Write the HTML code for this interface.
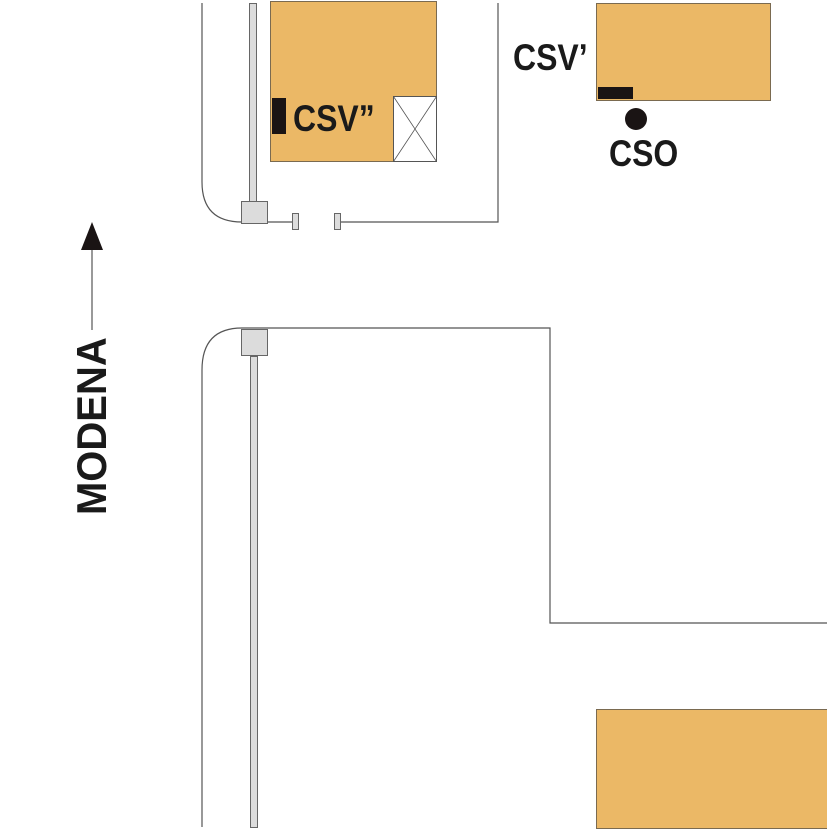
<!DOCTYPE html>
<html><head><meta charset="utf-8"><style>
html,body{margin:0;padding:0;background:#fff;}
svg{display:block}
text{font-family:"Liberation Sans",Arial,sans-serif;font-weight:bold;fill:#1a1a1a}
</style></head><body>
<svg width="827" height="830" viewBox="0 0 827 830" xmlns="http://www.w3.org/2000/svg">
<g fill="none" stroke="#555" stroke-width="1.2">
<path d="M202 3 V182 Q202 222 242 222"/>
<path d="M267 222 H292 M340 222 H498 V3"/>
<path d="M242 328 H550 V623 H827"/>
<path d="M202 827 V370 Q202 328 242 328"/>
</g>
<g fill="#dcdcdc" stroke="#666" stroke-width="1">
<rect x="249.5" y="3.5" width="7" height="198"/>
<rect x="241.5" y="201.5" width="26" height="22"/>
<rect x="292.5" y="213.5" width="6" height="16"/>
<rect x="334.5" y="213.5" width="6" height="16"/>
<rect x="241.5" y="329.5" width="26" height="26"/>
<rect x="250.5" y="356.5" width="7" height="471"/>
</g>
<g fill="#ebb866" stroke="#7a6a50" stroke-width="1">
<rect x="270.5" y="1.5" width="166" height="160"/>
<rect x="596.5" y="3.5" width="174" height="97"/>
<rect x="596.5" y="709.5" width="231" height="119"/>
</g>
<rect x="393.5" y="96.5" width="43" height="65" fill="#fff" stroke="#555"/>
<path d="M393.5 96.5 L436.5 161.5 M436.5 96.5 L393.5 161.5" stroke="#555" stroke-width="0.8"/>
<rect x="272" y="98" width="14" height="36" fill="#1a1414"/>
<rect x="598" y="87" width="35" height="12" fill="#1a1414"/>
<circle cx="636" cy="119" r="11" fill="#1a1414"/>
<text transform="translate(293,131) scale(1,1.15)" font-size="32">CSV”</text>
<text transform="translate(513,70) scale(1,1.15)" font-size="32">CSV’</text>
<text transform="translate(609,166) scale(1,1.15)" font-size="32">CSO</text>
<line x1="92" y1="245" x2="92" y2="330" stroke="#555" stroke-width="1.2"/>
<polygon points="92,222 81,250 103,250" fill="#1a1414"/>
<text transform="translate(106,515) rotate(-90) scale(1,1.05)" font-size="40">MODENA</text>
</svg>
</body></html>
